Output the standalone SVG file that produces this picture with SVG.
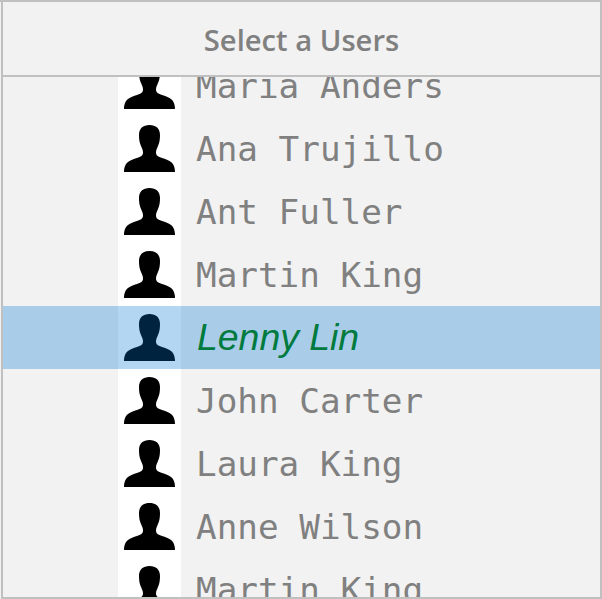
<svg xmlns="http://www.w3.org/2000/svg" width="602" height="599" viewBox="0 0 602 599">
<style>
.name{font-family:"DejaVu Sans Mono",monospace;font-size:34.300px;fill:#808080}
.sel{font-family:"Liberation Sans",Arial,sans-serif;font-size:37.400px;font-style:italic;fill:#007a3d}
.title{font-family:"Open Sans","Noto Sans",sans-serif;font-size:29.200px;font-weight:600;fill:#808080}
.photo{fill:#fff}
</style>
<defs>
<symbol id="u" overflow="visible">
<path d="M25.500 0C19 0 15 3.500 15 10C15 14 15.500 18 17 21C18 23.500 19 25 19 27.500C19 29.500 18 31 15.500 32C12 33.500 9 34 5.500 36C2.500 37.500 0 41 0 47L51 47C51 41 48.500 37.500 45.500 36C42 34 39 33.500 35.500 32C33 31 32 29.500 32 27.500C32 25 33 23.500 34 21C35.500 18 36 14 36 10C36 3.500 32 0 25.500 0Z"/></symbol>
<clipPath id="list"><rect x="3" y="77" width="597" height="520"/></clipPath>
</defs>
<rect width="602" height="599" fill="#f2f2f2"/>
<g id="list-body" clip-path="url(#list)">
<rect class="photo" x="118" y="77" width="63" height="520"/>
<g id="row-maria"><use href="#u" x="124" y="62"/><text class="name" x="196" y="98">Maria Anders</text></g>
<g id="row-ana"><use href="#u" x="124" y="125"/><text class="name" x="196" y="161">Ana Trujillo</text></g>
<g id="row-ant"><use href="#u" x="124" y="188"/><text class="name" x="196" y="224">Ant Fuller</text></g>
<g id="row-martin"><use href="#u" x="124" y="251"/><text class="name" x="196" y="287">Martin King</text></g>
<g id="row-lenny"><rect x="3" y="306" width="597" height="63" fill="#a9cde9"/><rect x="118" y="306" width="63" height="63" fill="#b3d6f2"/><use href="#u" x="124" y="314" fill="#00233f"/><text class="sel" x="197" y="350">Lenny Lin</text></g>
<g id="row-john"><use href="#u" x="124" y="377"/><text class="name" x="196" y="413">John Carter</text></g>
<g id="row-laura"><use href="#u" x="124" y="440"/><text class="name" x="196" y="476">Laura King</text></g>
<g id="row-anne"><use href="#u" x="124" y="503"/><text class="name" x="196" y="539">Anne Wilson</text></g>
<g id="row-martin2"><use href="#u" x="124" y="566"/><text class="name" x="196" y="602">Martin King</text></g>
</g>
<g id="header"><text class="title" x="301.500" y="51" text-anchor="middle">Select a Users</text></g>
<g id="frame" fill="#c0c0c0">
<rect x="0" y="0" width="602" height="2"/><rect x="1" y="0" width="2" height="599"/><rect x="600" y="0" width="2" height="599"/><rect x="1" y="597" width="601" height="2"/><rect x="1" y="75" width="601" height="2"/>
</g>
</svg>
